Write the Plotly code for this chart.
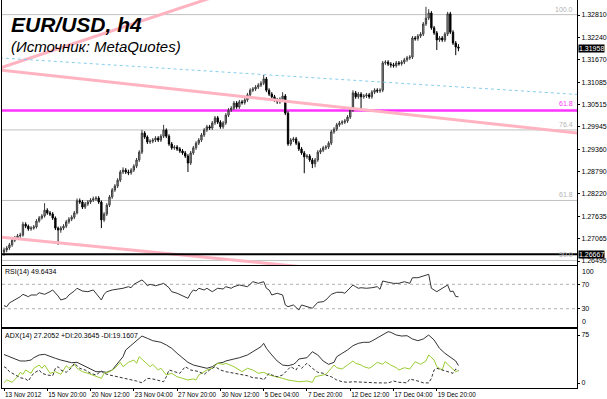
import plotly.graph_objects as go

# ---------------- data ----------------
closes = [
    1.2678, 1.2683, 1.2691, 1.2703, 1.2709, 1.2714, 1.2716, 1.2744, 1.2739, 1.2732,
    1.2734, 1.2737, 1.2752, 1.2760, 1.2765, 1.2780, 1.2773, 1.2770, 1.2760, 1.2734,
    1.2729, 1.2734, 1.2739, 1.2750, 1.2757, 1.2762, 1.2773, 1.2804, 1.2801, 1.2788,
    1.2796, 1.2801, 1.2806, 1.2809, 1.2811, 1.2801, 1.2755, 1.2770, 1.2793, 1.2814,
    1.2832, 1.2842, 1.2857, 1.2878, 1.2883, 1.2878, 1.2876, 1.2883, 1.2893, 1.2909,
    1.2929, 1.2978, 1.2968, 1.2955, 1.2957, 1.2960, 1.2965, 1.2960, 1.2970, 1.2986,
    1.2970, 1.2950, 1.2940, 1.2942, 1.2937, 1.2932, 1.2927, 1.2919, 1.2901, 1.2927,
    1.2940, 1.2952, 1.2960, 1.2973, 1.2986, 1.2994, 1.2991, 1.3004, 1.3017, 1.3006,
    1.2994, 1.3004, 1.3024, 1.3037, 1.3042, 1.3055, 1.3045, 1.3058, 1.3056, 1.3063,
    1.3076, 1.3088, 1.3091, 1.3096, 1.3101, 1.3106, 1.3117, 1.3088, 1.3078, 1.3071,
    1.3063, 1.3058, 1.3065, 1.3073, 1.3029, 1.2950, 1.2960, 1.2963, 1.2952, 1.2937,
    1.2927, 1.2917, 1.2919, 1.2909, 1.2899, 1.2909, 1.2929, 1.2934, 1.2940, 1.2942,
    1.2952, 1.2981, 1.2988, 1.2999, 1.3004, 1.3006, 1.3009, 1.3019, 1.3037, 1.3081,
    1.3071, 1.3078, 1.3071, 1.3073, 1.3076, 1.3071, 1.3083, 1.3088, 1.3086, 1.3088,
    1.3158, 1.3160, 1.3155, 1.3153, 1.3151, 1.3158, 1.3156, 1.3160, 1.3166, 1.3171,
    1.3173, 1.3222, 1.3220, 1.3227, 1.3232, 1.3258, 1.3273, 1.3286, 1.3248, 1.3235,
    1.3217, 1.3222, 1.3217, 1.3232, 1.3284, 1.3237, 1.3209, 1.3199, 1.3196,
]
first_open = 1.2672
opens = [first_open] + closes[:-1]

highs = [
    1.2684, 1.2688, 1.2696, 1.2708, 1.2714, 1.2719, 1.2722, 1.2750, 1.2749, 1.2743,
    1.2739, 1.2742, 1.2757, 1.2765, 1.2770, 1.2798, 1.2785, 1.2778, 1.2775, 1.2764,
    1.2738, 1.2739, 1.2744, 1.2755, 1.2762, 1.2767, 1.2778, 1.2810, 1.2810, 1.2806,
    1.2801, 1.2806, 1.2811, 1.2815, 1.2816, 1.2816, 1.2805, 1.2775, 1.2798, 1.2819,
    1.2837, 1.2847, 1.2862, 1.2883, 1.2890, 1.2888, 1.2884, 1.2888, 1.2898, 1.2914,
    1.2934, 1.2986, 1.2983, 1.2972, 1.2962, 1.2965, 1.2970, 1.2970, 1.2975, 1.2999,
    1.2990, 1.2975, 1.2955, 1.2947, 1.2947, 1.2942, 1.2937, 1.2932, 1.2924, 1.2932,
    1.2945, 1.2957, 1.2965, 1.2978, 1.2991, 1.2999, 1.2999, 1.3009, 1.3022, 1.3022,
    1.3011, 1.3009, 1.3029, 1.3042, 1.3047, 1.3060, 1.3060, 1.3063, 1.3063, 1.3068,
    1.3081, 1.3093, 1.3096, 1.3101, 1.3106, 1.3111, 1.3127, 1.3122, 1.3093, 1.3083,
    1.3076, 1.3068, 1.3070, 1.3083, 1.3078, 1.3034, 1.2965, 1.2968, 1.2968, 1.2957,
    1.2942, 1.2932, 1.2924, 1.2924, 1.2914, 1.2914, 1.2934, 1.2939, 1.2945, 1.2947,
    1.2957, 1.2986, 1.2993, 1.3004, 1.3009, 1.3011, 1.3014, 1.3024, 1.3042, 1.3088,
    1.3086, 1.3083, 1.3083, 1.3078, 1.3081, 1.3081, 1.3088, 1.3093, 1.3093, 1.3093,
    1.3163, 1.3165, 1.3165, 1.3160, 1.3158, 1.3163, 1.3163, 1.3165, 1.3171, 1.3176,
    1.3178, 1.3227, 1.3227, 1.3232, 1.3237, 1.3263, 1.3302, 1.3296, 1.3291, 1.3253,
    1.3240, 1.3227, 1.3227, 1.3237, 1.3289, 1.3289, 1.3242, 1.3214, 1.3206,
]
lows = [
    1.2663, 1.2672, 1.2678, 1.2686, 1.2698, 1.2704, 1.2709, 1.2712, 1.2734, 1.2727,
    1.2727, 1.2730, 1.2733, 1.2748, 1.2756, 1.2761, 1.2768, 1.2765, 1.2755, 1.2729,
    1.2691, 1.2722, 1.2729, 1.2734, 1.2745, 1.2752, 1.2757, 1.2769, 1.2796, 1.2783,
    1.2783, 1.2791, 1.2796, 1.2801, 1.2804, 1.2796, 1.2734, 1.2750, 1.2765, 1.2788,
    1.2809, 1.2827, 1.2837, 1.2852, 1.2873, 1.2873, 1.2870, 1.2871, 1.2878, 1.2888,
    1.2904, 1.2924, 1.2963, 1.2950, 1.2950, 1.2952, 1.2955, 1.2955, 1.2955, 1.2965,
    1.2965, 1.2945, 1.2935, 1.2935, 1.2932, 1.2927, 1.2922, 1.2914, 1.2878, 1.2896,
    1.2922, 1.2935, 1.2947, 1.2955, 1.2968, 1.2981, 1.2986, 1.2986, 1.2999, 1.3001,
    1.2989, 1.2989, 1.2999, 1.3019, 1.3032, 1.3037, 1.3040, 1.3040, 1.3051, 1.3051,
    1.3058, 1.3071, 1.3083, 1.3086, 1.3091, 1.3096, 1.3101, 1.3083, 1.3073, 1.3066,
    1.3058, 1.3053, 1.3053, 1.3060, 1.3024, 1.2945, 1.2945, 1.2955, 1.2947, 1.2932,
    1.2922, 1.2875, 1.2912, 1.2904, 1.2888, 1.2890, 1.2904, 1.2924, 1.2929, 1.2935,
    1.2937, 1.2947, 1.2976, 1.2983, 1.2994, 1.2999, 1.3001, 1.3004, 1.3014, 1.3032,
    1.3066, 1.3066, 1.3040, 1.3066, 1.3068, 1.3066, 1.3066, 1.3078, 1.3081, 1.3081,
    1.3083, 1.3153, 1.3150, 1.3146, 1.3146, 1.3146, 1.3151, 1.3151, 1.3155, 1.3161,
    1.3166, 1.3168, 1.3215, 1.3215, 1.3222, 1.3227, 1.3253, 1.3268, 1.3243, 1.3230,
    1.3191, 1.3212, 1.3212, 1.3212, 1.3227, 1.3232, 1.3204, 1.3178, 1.3188,
]
bar_index = list(range(len(closes)))

tick_bars = [0, 16, 32, 48, 64, 80, 96, 112, 128, 144, 160]
tick_labels = ["13 Nov 2012", "15 Nov 20:00", "20 Nov 12:00", "23 Nov 04:00",
               "27 Nov 20:00", "30 Nov 12:00", "5 Dec 04:00", "7 Dec 20:00",
               "12 Dec 12:00", "17 Dec 04:00", "19 Dec 20:00"]

price_ticks = [1.32810, 1.32240, 1.31670, 1.31085, 1.30515, 1.29945,
               1.29360, 1.28790, 1.28220, 1.27635, 1.27065, 1.26495]
bid_price = 1.31958
hline_price = 1.26667

fib_names = ["100.0", "76.4", "61.8", "50.0"]
fib_prices = [1.3282, 1.2986, 1.2805, 1.2651]
magenta_name = "61.8"
magenta_price = 1.3036

trend_up_bars = [-1.5, 80]
trend_up_prices = [1.3145, 1.3333]
trend_down_bars = [-1.5, 212]
trend_down_prices = [1.3140, 1.2978]
trend_low_bars = [-1.5, 120]
trend_low_prices = [1.2711, 1.2628]
channel_bars = [-1.5, 212]
channel_prices = [1.3171, 1.3077]

rsi_bar = [0, 1, 2, 4, 6, 7, 9, 10, 12, 13, 15, 17, 18, 20, 21, 23, 24, 26, 27, 29,
           31, 33, 34, 36, 37, 38, 40, 42, 44, 46, 47, 48, 51, 52, 53, 54, 56, 58, 59, 61,
           62, 64, 66, 68, 69, 70, 71, 72, 74, 75, 77, 79, 81, 82, 84, 85, 87, 90, 92, 94,
           96, 97, 98, 99, 101, 103, 104, 105, 107, 109, 110, 112, 114, 116, 118, 119, 121, 123, 125, 126,
           129, 130, 131, 132, 134, 136, 138, 139, 140, 142, 144, 146, 148, 150, 151, 153, 155, 157, 158, 160,
           164, 165, 166, 167, 168]
rsi_val = [35.0, 33.3, 39.4, 44.3, 49.7, 53.6, 49.7, 52.5, 52.5, 56.2, 53.6, 57.9, 60.7, 50.8, 44.3, 47.1, 52.5, 59.0, 63.5, 59.0,
           57.9, 60.7, 55.3, 44.3, 53.6, 57.9, 60.7, 61.8, 63.5, 66.1, 64.4, 70.0, 77.1, 73.3, 67.7, 70.0, 67.7, 70.0, 71.6, 64.4,
           57.9, 55.3, 51.3, 47.1, 55.3, 60.7, 59.0, 63.5, 60.7, 63.5, 57.9, 63.5, 62.3, 66.1, 63.5, 66.1, 68.9, 66.1, 74.3, 71.6,
           74.3, 63.5, 60.7, 52.5, 55.3, 52.5, 36.1, 33.3, 36.1, 27.9, 36.1, 33.3, 30.7, 40.5, 41.5, 44.3, 53.6, 56.9, 56.9, 55.3,
           68.9, 66.1, 63.5, 64.4, 63.5, 64.4, 66.1, 61.8, 75.4, 73.3, 71.6, 71.6, 74.3, 71.6, 80.8, 80.8, 83.6, 86.4, 63.5, 57.9,
           68.9, 57.9, 59.0, 50.0, 49.6]

adx_bar = [0, 2, 4, 6, 8, 10, 11, 13, 15, 17, 19, 21, 23, 25, 27, 29, 31, 33, 34, 36,
           38, 40, 42, 44, 45, 47, 49, 51, 53, 55, 57, 58, 60, 62, 64, 66, 68, 70, 71, 73,
           75, 77, 79, 81, 82, 85, 87, 90, 92, 95, 96, 97, 99, 101, 103, 105, 107, 108, 109, 112,
           114, 116, 118, 120, 122, 123, 125, 127, 129, 131, 133, 135, 136, 138, 140, 142, 143, 145, 147, 149,
           151, 153, 155, 156, 157, 159, 161, 163, 165, 167, 168]
adx_val = [44.5, 41.1, 37.5, 34.4, 34.4, 35.9, 39.5, 43.8, 44.8, 41.1, 38.6, 35.9, 33.3, 31.7, 32.3, 28.1, 23.9, 20.3, 17.7, 17.7,
           16.7, 20.3, 30.8, 41.1, 51.6, 59.4, 67.2, 73.4, 69.8, 66.1, 64.5, 63.6, 59.4, 54.2, 46.4, 38.6, 32.3, 28.1, 27.0, 25.5,
           23.0, 25.5, 30.8, 32.3, 34.4, 37.5, 39.5, 43.8, 48.9, 56.7, 62.0, 54.2, 43.8, 34.4, 28.1, 27.0, 29.2, 32.3, 37.5, 39.5,
           48.9, 43.8, 34.4, 29.2, 32.3, 41.1, 46.4, 51.6, 58.3, 62.0, 63.6, 63.6, 65.6, 70.8, 75.0, 80.2, 79.2, 75.0, 73.4, 73.9,
           68.8, 66.1, 68.8, 72.3, 75.0, 67.2, 54.2, 46.4, 41.1, 34.4, 27.2]

pdi_bar = [0, 1, 3, 5, 6, 7, 8, 10, 11, 13, 14, 15, 17, 19, 21, 22, 23, 24, 26, 27,
           29, 31, 33, 35, 36, 37, 39, 41, 43, 44, 46, 48, 49, 50, 52, 54, 55, 57, 58, 60,
           62, 64, 66, 68, 70, 71, 72, 74, 75, 77, 79, 81, 82, 85, 86, 88, 90, 92, 94, 96,
           98, 101, 103, 105, 107, 109, 112, 114, 115, 117, 119, 121, 122, 123, 125, 127, 129, 130, 132, 133,
           135, 136, 138, 140, 141, 143, 145, 146, 148, 150, 152, 154, 156, 157, 159, 160, 162, 163, 165, 166,
           167, 168]
pdi_val = [0.5, 4.7, 1.1, 9.8, 16.7, 13.6, 20.3, 15.2, 23.0, 28.1, 23.0, 28.1, 15.2, 17.7, 13.6, 20.3, 27.0, 23.0, 29.2, 23.0,
           17.7, 15.2, 12.5, 9.8, 7.3, 15.2, 17.7, 23.0, 32.3, 25.5, 32.3, 35.9, 30.8, 41.1, 33.3, 25.5, 29.2, 20.3, 23.0, 12.5,
           15.2, 9.8, 7.3, 4.7, 6.3, 4.7, 12.5, 17.7, 20.3, 23.0, 30.8, 29.2, 30.8, 25.5, 23.0, 17.7, 23.0, 20.3, 15.2, 16.7,
           12.5, 9.8, 7.3, 4.7, 3.1, 2.0, 3.1, 1.1, 9.8, 11.4, 13.6, 23.0, 28.1, 23.9, 21.9, 28.1, 34.4, 30.8, 28.1, 25.5,
           23.0, 25.5, 32.3, 29.2, 33.3, 28.1, 23.9, 20.3, 23.9, 21.9, 33.3, 29.2, 34.4, 43.8, 35.9, 25.5, 20.3, 33.3, 25.5, 20.3,
           17.5, 19.5]

mdi_bar = [0, 1, 2, 4, 6, 8, 9, 10, 11, 13, 14, 16, 18, 19, 20, 21, 23, 25, 26, 28,
           30, 32, 34, 36, 37, 39, 42, 44, 47, 49, 51, 53, 55, 57, 59, 60, 61, 63, 65, 67,
           69, 71, 72, 74, 76, 78, 80, 82, 85, 87, 90, 92, 95, 96, 98, 99, 101, 103, 105, 106,
           108, 109, 110, 112, 114, 116, 118, 119, 121, 123, 125, 127, 129, 132, 133, 136, 138, 141, 142, 144,
           146, 149, 150, 153, 155, 157, 158, 159, 160, 162, 164, 166, 167, 168]
mdi_val = [25.5, 23.0, 17.7, 12.5, 8.3, 6.3, 3.1, 9.8, 15.2, 20.3, 15.2, 12.5, 11.4, 23.0, 25.5, 20.3, 16.7, 23.9, 30.8, 23.0,
           20.3, 15.2, 12.5, 18.8, 15.2, 12.5, 9.8, 7.3, 4.7, 3.1, 0.3, 7.3, 6.3, 4.7, 2.0, 9.8, 20.3, 17.7, 15.2, 25.5,
           20.3, 18.8, 17.7, 13.6, 20.3, 25.5, 20.3, 17.7, 15.2, 13.6, 11.4, 8.3, 7.3, 4.7, 15.2, 12.5, 9.8, 12.5, 21.9, 25.5,
           20.3, 28.1, 23.0, 30.8, 23.0, 16.7, 15.2, 12.5, 9.8, 4.7, 2.0, 1.1, 2.0, 1.1, 1.1, 0.3, 0.2, 0.1, 0.1, 3.1,
           1.1, 0.3, 6.3, 3.1, 0.3, 0.1, 7.3, 20.3, 23.0, 20.3, 17.7, 15.2, 21.9, 19.2]

rsi_levels = [70, 30]
adx_ticks = [75, 0]

# ---------------- figure ----------------
SMALL = dict(family="Liberation Sans Narrow, Liberation Sans, Arial", size=7, color="#000000")
XFONT = dict(family="Liberation Sans Narrow, Liberation Sans, Arial", size=6.4, color="#000000")
fig = go.Figure()

for bx, py, col, dash, w in [
    (trend_up_bars, trend_up_prices, "#FFB3C1", "solid", 3),
    (trend_down_bars, trend_down_prices, "#FFB3C1", "solid", 3),
    (trend_low_bars, trend_low_prices, "#FFB3C1", "solid", 3),
    (channel_bars, channel_prices, "#87CEEB", "dot", 1),
]:
    fig.add_trace(go.Scatter(x=bx, y=py, mode="lines", xaxis="x3", yaxis="y3",
                             line=dict(color=col, width=w, dash=dash), hoverinfo="skip"))

fig.add_trace(go.Candlestick(
    x=bar_index, open=opens, high=highs, low=lows, close=closes,
    xaxis="x3", yaxis="y3", whiskerwidth=0,
    increasing=dict(line=dict(color="#3a3a3a", width=1), fillcolor="#A8A8A8"),
    decreasing=dict(line=dict(color="#000000", width=1), fillcolor="#000000"),
    hoverinfo="skip"))

fig.add_trace(go.Scatter(x=rsi_bar, y=rsi_val, mode="lines", xaxis="x2", yaxis="y2",
                         line=dict(color="#333333", width=1), hoverinfo="skip"))
fig.add_trace(go.Scatter(x=adx_bar, y=adx_val, mode="lines", xaxis="x", yaxis="y",
                         line=dict(color="#333333", width=1), hoverinfo="skip"))
fig.add_trace(go.Scatter(x=pdi_bar, y=pdi_val, mode="lines", xaxis="x", yaxis="y",
                         line=dict(color="#9ACD32", width=1), hoverinfo="skip"))
fig.add_trace(go.Scatter(x=mdi_bar, y=mdi_val, mode="lines", xaxis="x", yaxis="y",
                         line=dict(color="#333333", width=1, dash="3px,2px"), hoverinfo="skip"))

shapes = []
annotations = []
for name, p in zip(fib_names, fib_prices):
    shapes.append(dict(type="line", xref="x3 domain", x0=0, x1=1, yref="y3", y0=p, y1=p,
                       line=dict(color="#C0C0C0", width=1), layer="below"))
    annotations.append(dict(text=name, xref="x3 domain", x=1, xanchor="right", xshift=-2,
                            yref="y3", y=p, yanchor="bottom", showarrow=False,
                            font=dict(family=SMALL["family"], size=7, color="#B4B4B4")))
shapes.append(dict(type="line", xref="x3 domain", x0=0, x1=1, yref="y3",
                   y0=magenta_price, y1=magenta_price,
                   line=dict(color="#FF33FF", width=2.5), layer="below"))
annotations.append(dict(text=magenta_name, xref="x3 domain", x=1, xanchor="right", xshift=-2,
                        yref="y3", y=magenta_price, yanchor="bottom", yshift=1, showarrow=False,
                        font=dict(family=SMALL["family"], size=7, color="#FF33FF")))
shapes.append(dict(type="line", xref="x3 domain", x0=0, x1=1, yref="y3",
                   y0=hline_price, y1=hline_price, line=dict(color="#000000", width=2)))
for lv in rsi_levels:
    shapes.append(dict(type="line", xref="x2 domain", x0=0, x1=1, yref="y2", y0=lv, y1=lv,
                       line=dict(color="#B0B0B0", width=1, dash="dot"), layer="below"))

for p in [bid_price, hline_price]:
    annotations.append(dict(text="%.5f" % p, xref="paper", x=1, xanchor="left", xshift=1,
                            yref="y3", y=p, yanchor="middle", showarrow=False,
                            bgcolor="#000000", borderpad=0,
                            font=dict(family=SMALL["family"], size=7, color="#FFFFFF")))

annotations += [
    dict(text="<b><i>EUR/USD, h4</i></b>", xref="paper", x=0.012, xanchor="left",
         yref="paper", y=0.936, yanchor="middle", showarrow=False,
         font=dict(family="Liberation Sans, Arial", size=21, color="#000000")),
    dict(text="<i>(Источник: MetaQuotes)</i>", xref="paper", x=0.012, xanchor="left",
         yref="paper", y=0.879, yanchor="middle", showarrow=False,
         font=dict(family="Liberation Sans, Arial", size=15, color="#000000")),
    dict(text="RSI(14) 49.6434", xref="paper", x=0.002, xanchor="left",
         yref="paper", y=0.299, yanchor="middle", showarrow=False, font=SMALL),
    dict(text="ADX(14) 27.2052 +DI:20.3645 -DI:19.1607", xref="paper", x=0.002, xanchor="left",
         yref="paper", y=0.134, yanchor="middle", showarrow=False, font=SMALL),
    dict(text="100", xref="paper", x=1, xanchor="left", xshift=3,
         yref="y2 domain", y=1, yanchor="top", showarrow=False, font=SMALL),
    dict(text="0", xref="paper", x=1, xanchor="left", xshift=3,
         yref="y2 domain", y=0, yanchor="bottom", showarrow=False, font=SMALL),
]

common_y = dict(side="right", showgrid=False, zeroline=False, showline=True, mirror=True,
                linecolor="#000000", linewidth=1, ticks="outside", ticklen=2,
                tickcolor="#000000", tickfont=SMALL, fixedrange=True, automargin=False)
common_x = dict(showgrid=False, zeroline=False, showline=True, linecolor="#000000",
                linewidth=1, rangeslider=dict(visible=False), fixedrange=True, automargin=False)

fig.update_layout(
    width=607, height=399,
    margin=dict(l=2, r=30, t=0, b=11, autoexpand=False),
    paper_bgcolor="#FFFFFF", plot_bgcolor="#FFFFFF",
    showlegend=False, hovermode=False,
    xaxis=dict(domain=[0, 1], anchor="y", range=[-0.74, 211.83],
               tickmode="array", tickvals=tick_bars, ticktext=tick_labels, tickangle=0,
               ticklabelposition="outside right", ticks="outside", ticklen=2,
               tickcolor="#000000", tickfont=XFONT, mirror=True, **common_x),
    xaxis2=dict(anchor="y2", matches="x", showticklabels=False, ticks="", mirror=True, **common_x),
    xaxis3=dict(anchor="y3", matches="x", showticklabels=False, ticks="", mirror=False, **common_x),
    yaxis=dict(domain=[0, 0.1521], anchor="x", range=[-7.8, 84.4],
               tickmode="array", tickvals=adx_ticks, ticktext=[str(v) for v in adx_ticks], **common_y),
    yaxis2=dict(domain=[0.1572, 0.3144], anchor="x2", range=[0, 100],
                tickmode="array", tickvals=rsi_levels, ticktext=[str(v) for v in rsi_levels], **common_y),
    yaxis3=dict(domain=[0.3170, 1], anchor="x3", range=[1.26393, 1.33195],
                tickmode="array", tickvals=price_ticks, ticktext=["%.5f" % v for v in price_ticks], **common_y),
    shapes=shapes, annotations=annotations,
)

fig.write_html("out.html", config={"displayModeBar": False, "staticPlot": True},
               post_script="document.body.style.margin='0';document.body.style.overflow='hidden';")
